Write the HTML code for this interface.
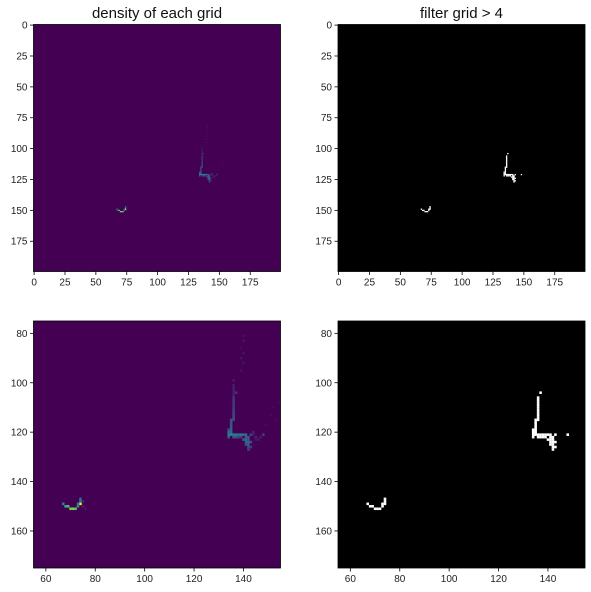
<!DOCTYPE html>
<html><head><meta charset="utf-8"><style>
body{margin:0;background:#fff;}
svg{display:block;font-family:"Liberation Sans","DejaVu Sans",sans-serif;}
</style></head><body>
<svg id="fig" width="591" height="592" viewBox="0 0 591 592" xmlns="http://www.w3.org/2000/svg"></svg>
<script>
// grid cells: x index, y index, density value
const cellX = [140,140,139,140,139,140,139,136,136,136,136,136,136,136,136,136,136,137,136,136,136,136,136,136,135,135,135,135,135,135,134,134,134,134,135,136,137,138,139,140,141,143,148,136,137,138,139,141,142,140,141,142,141,142,143,141,142,142,143,142,144,145,146,144,145,147,149,151,152,154,153,
  67,68,69,70,71,72,73,74,74,74,75,75,73,76];
const cellY = [81,83,86,88,90,92,95,99,101,103,104,102,106,108,110,112,114,104,115,107,109,111,113,105,115,116,117,118,119,120,119,120,121,122,121,121,121,121,121,121,121,121,121,122,122,122,122,122,122,123,123,123,124,124,124,125,125,126,126,127,120,122,123,121,123,122,117,113,110,108,115,
  149,150,150,151,151,151,150,149,148,147,148,150,149,151];
const cellV = [2,2,1,2,2,2,2,3,3,3,3,3,6,7,7,8,9,6,9,6,7,8,9,3,9,10,10,11,12,13,9,14,16,12,18,17,17,16,17,15,14,8,7,12,10,9,8,12,11,12,14,11,12,14,9,10,12,9,7,8,4,4,3,3,2,3,1,1,1,1,1,
  18,26,28,32,32,30,20,40,18,14,4,3,16,2];
const threshold = 4;
const vmax = 40;
const topTicks = [0,25,50,75,100,125,150,175];
const botXTicks = [60,80,100,120,140];
const botYTicks = [80,100,120,140,160];

const NS="http://www.w3.org/2000/svg";
const svg=document.getElementById('fig');
function mk(tag,attrs,parent){const e=document.createElementNS(NS,tag);for(const k in attrs)e.setAttribute(k,attrs[k]);(parent||svg).appendChild(e);return e;}
const vir=[[68,1,84],[72,40,120],[62,74,137],[49,104,142],[38,130,142],[31,158,137],[53,183,121],[109,205,89],[180,222,44],[253,231,37]];
function viridis(v){let t=Math.max(0,Math.min(1,v/vmax))*(vir.length-1);const i=Math.min(vir.length-2,Math.floor(t));const f=t-i;const c=vir[i].map((a,k)=>Math.round(a+(vir[i+1][k]-a)*f));return `rgb(${c[0]},${c[1]},${c[2]})`;}

function panel(name,left,top,size,x0,x1,y0,y1,xt,yt,filtered){
  const g=mk('g',{});
  
  
  const sx=v=>left+(v-x0)/(x1-x0)*size;
  const sy=v=>top+(v-y0)/(y1-y0)*size;
  const cp='clip-'+name;
  const cl=mk('clipPath',{id:cp},g);mk('rect',{x:left,y:top,width:size,height:size},cl);
  const bg=mk('rect',{x:left,y:top,width:size,height:size,fill:filtered?'#000':viridis(0)},g);
  
  
  const cg=mk('g',{'clip-path':`url(#${cp})`},g);
  for(let i=0;i<cellX.length;i++){
    const v=cellV[i];
    if(filtered&&v<=threshold)continue;
    const x=sx(cellX[i]-0.5),y=sy(cellY[i]-0.5),w=sx(cellX[i]+0.5)-x,h=sy(cellY[i]+0.5)-y;
    const r=mk('rect',{x:x,y:y,width:w+0.1,height:h+0.1,fill:filtered?'#fff':viridis(v)},cg);
    
    
  }
  const fr=mk('rect',{x:left,y:top,width:size,height:size,fill:'none',stroke:'#000','stroke-width':0.8},g);
  
  
  xt.forEach(t=>{const x=sx(t);
    mk('line',{x1:x,x2:x,y1:top+size,y2:top+size+3.5,stroke:'#000','stroke-width':0.8},g);
    const tx=mk('text',{x:x,y:top+size+14,'font-size':10,'text-anchor':'middle',fill:'#222'},g);tx.textContent=t;
    
    });
  yt.forEach(t=>{const y=sy(t);
    mk('line',{x1:left-3.5,x2:left,y1:y,y2:y,stroke:'#000','stroke-width':0.8},g);
    const tx=mk('text',{x:left-6,y:y+3.5,'font-size':10,'text-anchor':'end',fill:'#222'},g);tx.textContent=t;
    
    });
}
panel('density-full',33.5,24.5,247,-0.5,199.5,-0.5,199.5,topTicks,topTicks,false);
panel('filter-full',338,24.5,247,-0.5,199.5,-0.5,199.5,topTicks,topTicks,true);
panel('density-zoom',33.5,321,247,55,155,75,175,botXTicks,botYTicks,false);
panel('filter-zoom',338,321,247,55,155,75,175,botXTicks,botYTicks,true);
const t1=mk('text',{x:157,y:18,'font-size':15,'text-anchor':'middle',fill:'#111'});t1.textContent='density of each grid';


const t2=mk('text',{x:461.5,y:18,'font-size':15,'text-anchor':'middle',fill:'#111'});t2.textContent='filter grid > 4';


</script>
</body></html>
